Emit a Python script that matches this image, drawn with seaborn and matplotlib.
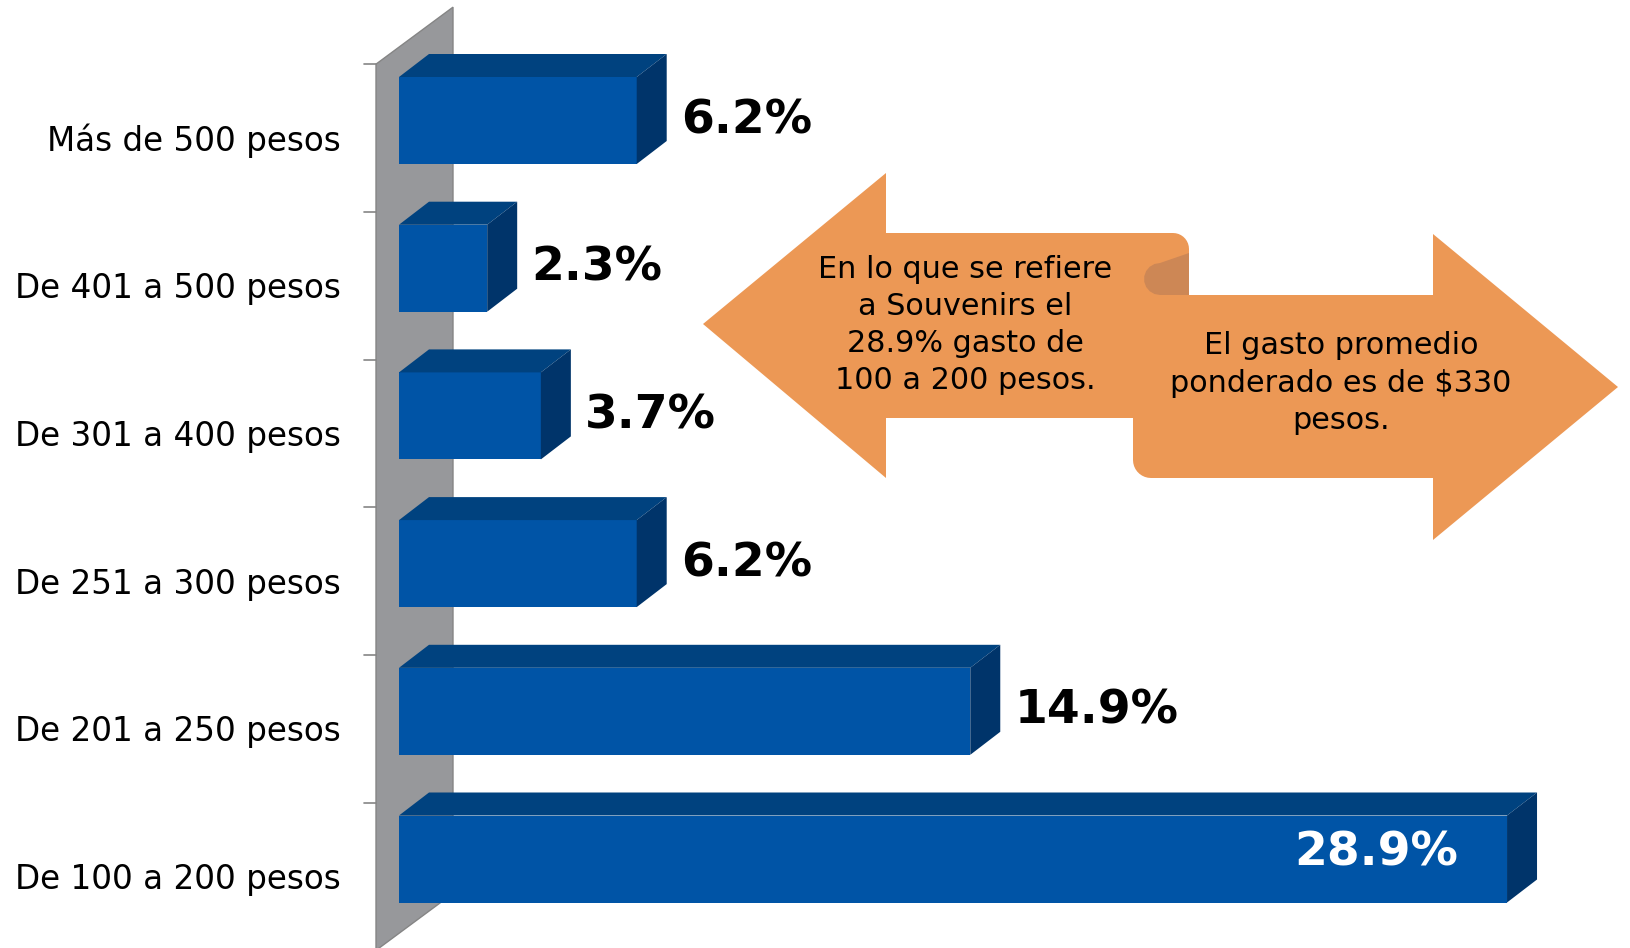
"""
Gasto en souvenirs por rango de pesos: barras horizontales con efecto 3D
y dos flechas de comentario.
"""

import numpy as np
import pandas as pd
import matplotlib.pyplot as plt
import matplotlib.patches as mpatches
import seaborn as sns


rangos = ['Más de 500 pesos', 'De 401 a 500 pesos', 'De 301 a 400 pesos',
          'De 251 a 300 pesos', 'De 201 a 250 pesos', 'De 100 a 200 pesos']
porcentajes = [6.2, 2.3, 3.7, 6.2, 14.9, 28.9]
etiquetas = ['6.2%', '2.3%', '3.7%', '6.2%', '14.9%', '28.9%']
texto_izq = 'En lo que se refiere\na Souvenirs el\n28.9% gasto de\n100 a 200 pesos.'
texto_der = 'El gasto promedio\nponderado es de $330\npesos.'

W, H = 1630, 948
PX_X = 38.34      # pixeles por punto porcentual
PX_Y = 147.7      # pixeles por categoria
FRENTE = '#0054A6'
ARRIBA = '#00427F'
LADO = '#00346A'
MURO = '#97989B'
NARANJA = '#EC9855'
PLIEGUE = '#CD8755'


def arco(cx, cy, r, a0, a1, n=10):
    """Puntos de un arco en pixeles (y hacia abajo)"""
    a = np.radians(np.linspace(a0, a1, n))
    return list(zip(cx + r * np.cos(a), cy + r * np.sin(a)))


def a_figura(puntos):
    return [(x / W, 1 - y / H) for x, y in puntos]


def dibujar_barras(ax):
    df = pd.DataFrame({'rango': rangos, 'pct': porcentajes})
    sns.barplot(data=df, x='pct', y='rango', order=rangos, orient='h',
                color=FRENTE, saturation=1, width=87 / PX_Y,
                linewidth=0, ax=ax, zorder=3)
    ax.set_xlim(-399 / PX_X, (W - 399) / PX_X)
    ax.set_ylim((H - 138) / PX_Y, -138 / PX_Y)
    ax.axis('off')

    # pared gris del eje
    wx0, wx1 = -23 / PX_X, 54 / PX_X
    wdy = 57 / PX_Y
    pared = [(wx0, -0.5), (wx1, -0.5 - wdy), (wx1, 5.5 - wdy), (wx0, 5.5)]
    ax.add_patch(mpatches.Polygon(pared, closed=True, facecolor=MURO,
                                  edgecolor='#858585', linewidth=1, zorder=1))
    for k in range(len(rangos) + 1):
        ax.plot([-35 / PX_X, wx0], [k - 0.5, k - 0.5], color='#858585',
                linewidth=1.2, zorder=1)

    dx, dy = 30 / PX_X, 23 / PX_Y
    maximo = max(porcentajes)
    for i, p in enumerate(ax.patches[:len(rangos)]):
        p.set_y(p.get_y() - 17.5 / PX_Y)
        x0, v = p.get_x(), p.get_width()
        yt, yb = p.get_y(), p.get_y() + p.get_height()
        arriba = [(x0, yt), (x0 + v, yt), (x0 + v + dx, yt - dy), (x0 + dx, yt - dy)]
        lado = [(x0 + v, yt), (x0 + v + dx, yt - dy), (x0 + v + dx, yb - dy), (x0 + v, yb)]
        ax.add_patch(mpatches.Polygon(arriba, closed=True, facecolor=ARRIBA,
                                      linewidth=0, zorder=3))
        ax.add_patch(mpatches.Polygon(lado, closed=True, facecolor=LADO,
                                      linewidth=0, zorder=3))
        yc = (yt + yb) / 2
        if porcentajes[i] == maximo:
            ax.text(x0 + v - 49 / PX_X, yc - 6 / PX_Y, etiquetas[i],
                    color='white', fontsize=34, fontweight='bold',
                    ha='right', va='center', zorder=4)
        else:
            ax.text(x0 + v + dx + 14 / PX_X, yc, etiquetas[i],
                    color='black', fontsize=34, fontweight='bold',
                    ha='left', va='center', zorder=4)

    for i, r in enumerate(rangos):
        ax.text(-58 / PX_X, i + 3 / PX_Y, r, fontsize=23.5, ha='right',
                va='center', color='black')


def dibujar_flechas(fig):
    izq = ([(703, 324), (886, 173), (886, 233)] + arco(1173, 249, 16, -90, 0)
           + [(1189, 295), (1133, 295), (1133, 418), (886, 418), (886, 478)])
    der = ([(1189, 295), (1433, 295), (1433, 234), (1618, 387), (1433, 540),
            (1433, 478)] + arco(1151, 460, 18, 90, 180) + [(1133, 283), (1189, 283)])
    pliegue = arco(1160, 279, 16, 90, 270) + [(1189, 253), (1189, 295)]
    for forma, color in [(izq, NARANJA), (der, NARANJA), (pliegue, PLIEGUE)]:
        fig.patches.append(mpatches.Polygon(a_figura(forma), closed=True,
                                            facecolor=color, linewidth=0,
                                            transform=fig.transFigure))
    fig.text(965 / W, 1 - 325 / H, texto_izq, fontsize=21.8, ha='center',
             va='center', linespacing=1.36, color='black')
    fig.text(1341 / W, 1 - 383 / H, texto_der, fontsize=21.8, ha='center',
             va='center', linespacing=1.36, color='black')


def main():
    sns.set_style('white')
    plt.rcParams['font.family'] = ['DejaVu Sans']
    plt.rcParams['text.color'] = 'black'
    fig = plt.figure(figsize=(W / 100, H / 100), dpi=100)
    ax = fig.add_axes([0, 0, 1, 1])
    dibujar_barras(ax)
    dibujar_flechas(fig)
    fig.savefig('out.png', dpi=100, facecolor='white')


if __name__ == '__main__':
    main()
